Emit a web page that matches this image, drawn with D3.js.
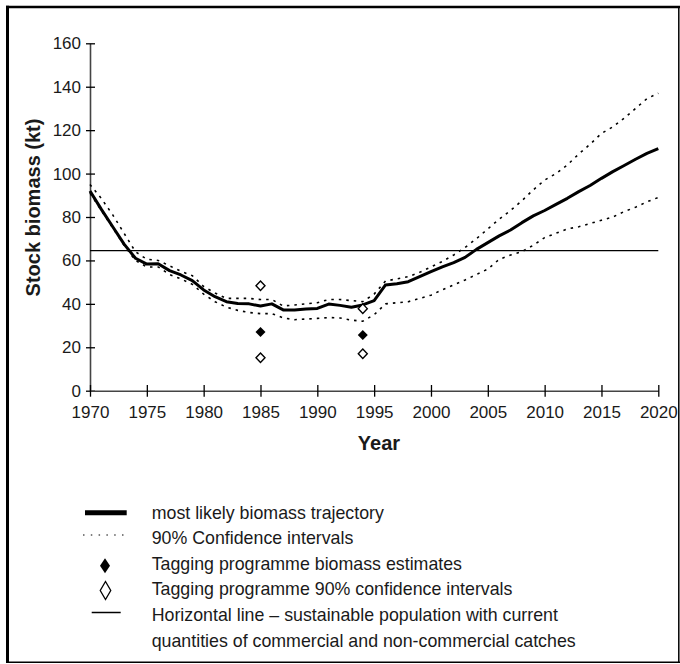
<!DOCTYPE html>
<html>
<head>
<meta charset="utf-8">
<script src="https://cdn.jsdelivr.net/npm/d3@7"></script>
<style>
    body { margin: 0; background: #fff; }
    svg { display: block; font-family: "Liberation Sans", Arial, sans-serif; }
</style>
</head>
<body>
<div id="chart"></div>
<script>

var years = d3.range(1970, 2021);

var biomass = [92, 83.5, 75.5, 67.5, 61, 58.3, 58.5, 55.3, 53.3, 50.7,
    46.4, 43.3, 41, 40.2, 40, 39, 40, 37.2, 37.2, 37.6,
    37.9, 39.9, 39.3, 38.4, 39.5, 41.5, 48.7, 49.3, 50.2, 52.5,
    54.8, 57, 59, 61.4, 65.1, 68.2, 71.3, 74, 77.4, 80.5,
    83, 85.8, 88.6, 91.7, 94.5, 97.8, 100.9, 103.7, 106.6, 109.3,
    111.5];

var upperCI = [95, 88.5, 81, 72.5, 64, 60.5, 60, 57.5, 55, 53,
    48, 45, 42.5, 42.5, 42.5, 42, 42, 39, 39.5, 40,
    40.5, 42, 42, 41.5, 41, 44.5, 50.5, 51.5, 52.5, 54.5,
    57, 59.5, 62.5, 66, 70, 74.5, 79, 83, 87.5, 92.5,
    97, 100, 104, 109, 113.5, 118.5, 121.5, 125.5, 130, 134.5,
    137];

var lowerCI = [91, 83, 75, 67, 60, 57, 57, 53.5, 51.5, 49,
    44.5, 41, 38.5, 37, 36, 35.5, 35.5, 33.5, 32.7, 33,
    33.3, 33.7, 33.5, 32.5, 32, 35, 40, 40.5, 41, 42.5,
    44, 46.5, 48.7, 51, 53.5, 56, 60.5, 62.5, 64, 67,
    70.5, 72.5, 74.5, 75.5, 77, 78.5, 80, 82.5, 84.5, 87,
    89];

var tagYears = [1985, 1994];
var tagEstimate = [27, 25.7];
var tagUpper = [48.3, 37.8];
var tagLower = [15.2, 17];

var sustainable = 64.5;

var xTicks = [1970, 1975, 1980, 1985, 1990, 1995, 2000, 2005, 2010, 2015, 2020];
var yTicks = [0, 20, 40, 60, 80, 100, 120, 140, 160];

var legendLabels = [
    "most likely biomass trajectory",
    "90% Confidence intervals",
    "Tagging programme biomass estimates",
    "Tagging programme 90% confidence intervals",
    "Horizontal line \u2013 sustainable population with current",
    "quantities of commercial and non-commercial catches"
];

var svgWidth = 680;
var svgHeight = 664;
var ink = "#1a1a1a";

var svg = d3.select("#chart")
    .append("svg")
    .attr("width", svgWidth)
    .attr("height", svgHeight);

// frame
svg.append("line").attr("x1", 7.5).attr("x2", 7.5).attr("y1", 5.8).attr("y2", 663)
    .attr("stroke", "#000").attr("stroke-width", 3);
svg.append("line").attr("x1", 6).attr("x2", 680).attr("y1", 7).attr("y2", 7)
    .attr("stroke", "#000").attr("stroke-width", 2.5);
svg.append("line").attr("x1", 6).attr("x2", 680).attr("y1", 662.3).attr("y2", 662.3)
    .attr("stroke", "#000").attr("stroke-width", 1.5);
svg.append("line").attr("x1", 678.8).attr("x2", 678.8).attr("y1", 6).attr("y2", 663)
    .attr("stroke", "#000").attr("stroke-width", 1.5);

var x = d3.scaleLinear().domain([1970, 2020]).range([90, 658.3]);
var y = d3.scaleLinear().domain([0, 160]).range([390.7, 43.3]);

// axes
var yAxis = svg.append("g")
    .attr("transform", "translate(90,0)")
    .call(d3.axisLeft(y).tickValues(yTicks).tickSize(0).tickPadding(9));
yAxis.select(".domain").attr("stroke", "#444").attr("stroke-width", 1.6);
yAxis.selectAll("text").attr("font-size", "17px").attr("fill", ink);
yAxis.selectAll(".tick").append("line")
    .attr("x1", -4).attr("x2", 5).attr("stroke", "#000").attr("stroke-width", 1.3);

var xAxis = svg.append("g")
    .attr("transform", "translate(0,390.7)")
    .call(d3.axisBottom(x).tickValues(xTicks).tickFormat(d3.format("d")).tickSize(0).tickPadding(15));
xAxis.select(".domain").attr("stroke", "#444").attr("stroke-width", 1.6);
xAxis.selectAll("text").attr("font-size", "17px").attr("fill", ink);
xAxis.selectAll(".tick").append("line")
    .attr("y1", -5.7).attr("y2", 6).attr("stroke", "#000").attr("stroke-width", 1.3);

svg.append("text")
    .attr("transform", "translate(33,207.5) rotate(-90)")
    .attr("dy", "0.35em")
    .attr("text-anchor", "middle")
    .attr("font-size", "20px")
    .attr("font-weight", "bold")
    .attr("fill", ink)
    .text("Stock biomass (kt)");

svg.append("text")
    .attr("x", 379)
    .attr("y", 450)
    .attr("text-anchor", "middle")
    .attr("font-size", "20px")
    .attr("font-weight", "bold")
    .attr("fill", ink)
    .text("Year");

// sustainable level
svg.append("line")
    .attr("x1", x(1970)).attr("x2", x(2020))
    .attr("y1", y(sustainable)).attr("y2", y(sustainable))
    .attr("stroke", "#000").attr("stroke-width", 1.3);

var line = d3.line()
    .x(function(d, i) { return x(years[i]); })
    .y(function(d) { return y(d); });

svg.append("path").datum(upperCI)
    .attr("d", line).attr("fill", "none")
    .attr("stroke", "#000").attr("stroke-width", 1.6).attr("stroke-dasharray", "2.5,5");

svg.append("path").datum(lowerCI)
    .attr("d", line).attr("fill", "none")
    .attr("stroke", "#000").attr("stroke-width", 1.6).attr("stroke-dasharray", "2.5,5");

svg.append("path").datum(biomass)
    .attr("d", line).attr("fill", "none")
    .attr("stroke", "#000").attr("stroke-width", 3).attr("stroke-linejoin", "round");

// tagging diamonds
function diamond(w, h) {
    return "M0," + (-h / 2) + "L" + (w / 2) + ",0L0," + (h / 2) + "L" + (-w / 2) + ",0Z";
}

var tagGroup = svg.append("g");
tagYears.forEach(function(yr, i) {
    [tagUpper[i], tagLower[i]].forEach(function(v) {
        tagGroup.append("path")
            .attr("d", diamond(9, 9.5))
            .attr("transform", "translate(" + x(yr) + "," + y(v) + ")")
            .attr("fill", "#fff").attr("stroke", "#000").attr("stroke-width", 1.4);
    });
    tagGroup.append("path")
        .attr("d", diamond(10, 10))
        .attr("transform", "translate(" + x(yr) + "," + y(tagEstimate[i]) + ")")
        .attr("fill", "#000");
});

// legend
var legend = svg.append("g");

legend.append("line").attr("x1", 85).attr("x2", 126.7).attr("y1", 512.7).attr("y2", 512.7)
    .attr("stroke", "#000").attr("stroke-width", 5);
legend.append("line").attr("x1", 83).attr("x2", 126).attr("y1", 535).attr("y2", 535)
    .attr("stroke", "#000").attr("stroke-width", 1).attr("stroke-dasharray", "1.5,6.3");
legend.append("path").attr("d", diamond(10, 15))
    .attr("transform", "translate(105,565.8)").attr("fill", "#000");
legend.append("path").attr("d", diamond(10.5, 18))
    .attr("transform", "translate(105.5,590.5)")
    .attr("fill", "#fff").attr("stroke", "#000").attr("stroke-width", 1.3);
legend.append("line").attr("x1", 91.7).attr("x2", 120.7).attr("y1", 612.5).attr("y2", 612.5)
    .attr("stroke", "#000").attr("stroke-width", 1.5);

legend.selectAll("text.lab")
    .data(legendLabels)
    .enter().append("text")
    .attr("class", "lab")
    .attr("x", 151.7)
    .attr("y", function(d, i) { return 518.5 + i * 25.6; })
    .attr("font-size", "17.8px")
    .attr("fill", ink)
    .text(function(d) { return d; });

</script>
</body>
</html>
